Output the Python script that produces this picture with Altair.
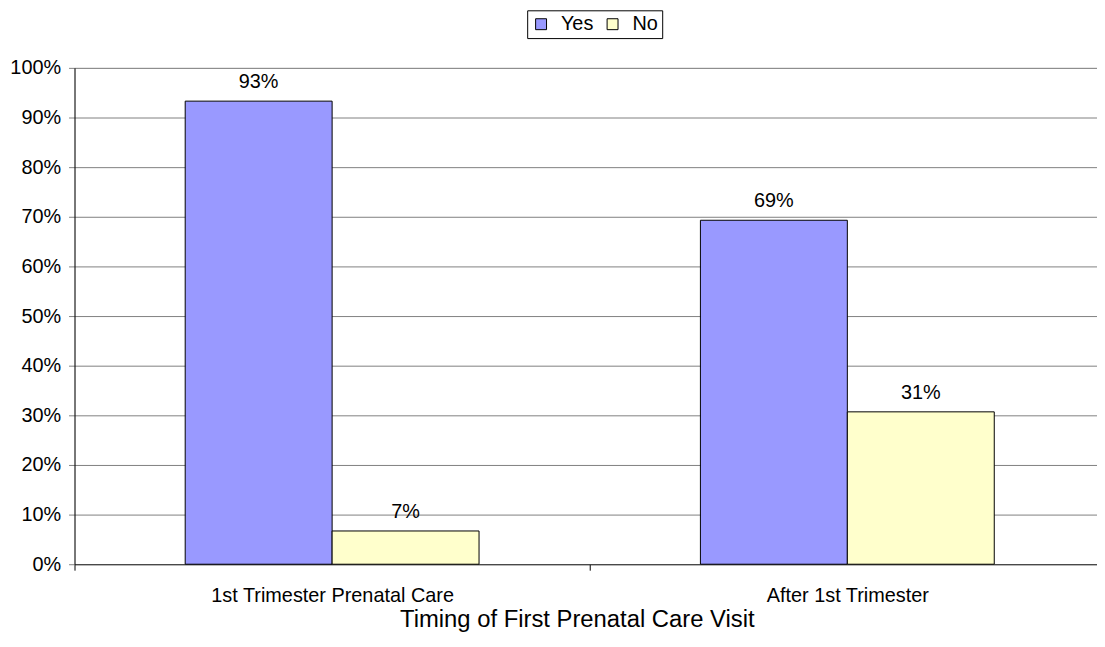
import altair as alt
import pandas as pd

categories = ["1st Trimester Prenatal Care", "After 1st Trimester"]
groups = ["Yes", "No"]
yes_values = [0.933, 0.693]
no_values = [0.067, 0.307]

rows = []
for i, c in enumerate(categories):
    rows.append({"cat": c, "grp": "Yes", "val": yes_values[i]})
    rows.append({"cat": c, "grp": "No", "val": no_values[i]})
df = pd.DataFrame(rows)

FONT = "Liberation Sans"

x_enc = alt.X(
    "cat:N",
    sort=categories,
    scale=alt.Scale(paddingInner=0, paddingOuter=0),
    axis=alt.Axis(
        title="Timing of First Prenatal Care Visit",
        titleFont=FONT,
        titleFontSize=24,
        titleFontWeight="normal",
        titleColor="black",
        titleX=506,
        titleY=63,
        titleBaseline="alphabetic",
        titleAlign="center",
        labelFont=FONT,
        labelFontSize=20,
        labelColor="black",
        labelAngle=0,
        labelPadding=16,
        labelLimit=0,
        tickBand="extent",
        tickSize=6,
        tickColor="black",
        domainColor="#333333",
        grid=False,
    ),
)
xoff = alt.XOffset(
    "grp:N",
    sort=groups,
    scale=alt.Scale(paddingInner=0, paddingOuter=0.7534),
)
y_enc = alt.Y(
    "val:Q",
    scale=alt.Scale(domain=[0, 1]),
    axis=alt.Axis(
        title=None,
        format=".0%",
        values=[i / 10 for i in range(11)],
        labelFont=FONT,
        labelFontSize=20,
        labelColor="black",
        labelPadding=8,
        tickSize=6,
        tickColor="#808080",
        domainColor="black",
        grid=True,
        gridColor="#808080",
        gridWidth=1,
    ),
)

color_enc = alt.Color(
    "grp:N",
    sort=groups,
    scale=alt.Scale(domain=groups, range=["#9999FF", "#FFFFCC"]),
    legend=alt.Legend(
        title=None,
        orient="none",
        legendX=456,
        legendY=-58,
        direction="horizontal",
        strokeColor="black",
        fillColor="white",
        padding=4,
        symbolType="square",
        symbolSize=121,
        symbolStrokeColor="black",
        symbolStrokeWidth=1,
        symbolOpacity=1,
        labelFont=FONT,
        labelFontSize=20,
        labelColor="black",
        labelOffset=10,
        columnPadding=9,
    ),
)

bars = alt.Chart(df).mark_bar(stroke="black", strokeWidth=1, opacity=1).encode(
    x=x_enc, xOffset=xoff, y=y_enc, color=color_enc
)
labels = alt.Chart(df).mark_text(
    font=FONT, fontSize=20, color="black", baseline="alphabetic", dy=-13
).encode(
    x=alt.X("cat:N", sort=categories),
    xOffset=alt.XOffset("grp:N", sort=groups),
    y="val:Q",
    text=alt.Text("val:Q", format=".0%"),
)

chart = (
    alt.layer(bars, labels)
    .properties(
        width=1038,
        height=500,
        autosize=alt.AutoSizeParams(type="none"),
        padding={"left": 67, "top": 58, "right": -8, "bottom": 73},
    )
    .configure_view(stroke=None)
    .configure(background="white")
)

chart.save("out.html", embed_options={"renderer": "svg", "actions": False})
